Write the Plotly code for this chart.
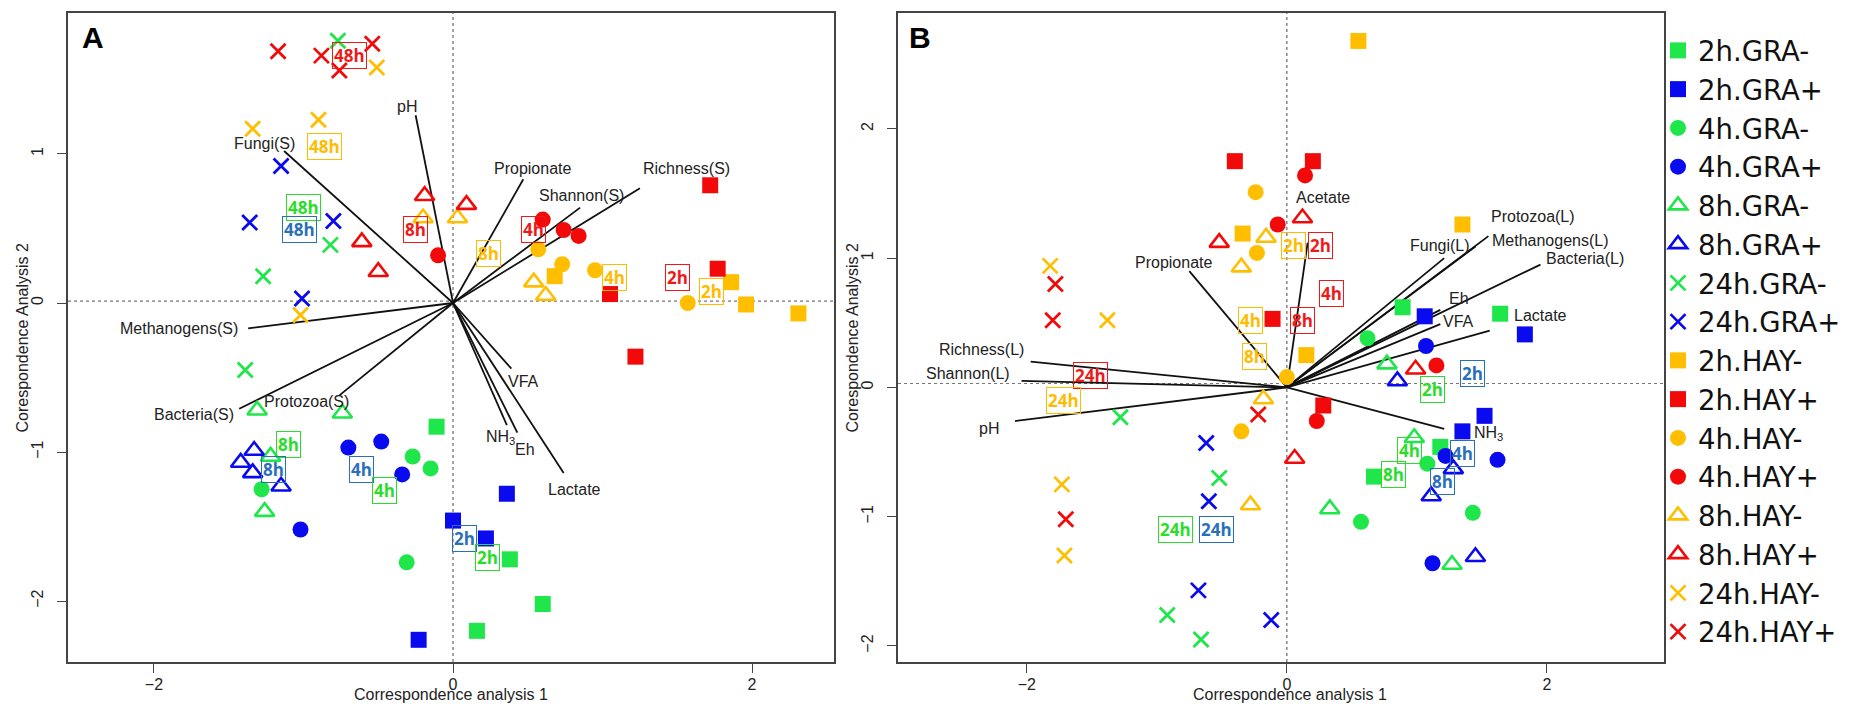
import plotly.graph_objects as go

W, H = 1850, 705

# ---------------- legend / groups ----------------
GROUPS = ["2h.GRA-", "2h.GRA+", "4h.GRA-", "4h.GRA+", "8h.GRA-", "8h.GRA+",
          "24h.GRA-", "24h.GRA+", "2h.HAY-", "2h.HAY+", "4h.HAY-", "4h.HAY+",
          "8h.HAY-", "8h.HAY+", "24h.HAY-", "24h.HAY+"]

# ---------------- Panel A points (CA1, CA2) ----------------
A_2h_GRAm = [(-0.11, -0.83), (0.38, -1.72), (0.60, -2.02), (0.16, -2.20)]
A_2h_GRAp = [(0.36, -1.28), (0.00, -1.46), (0.22, -1.58), (-0.23, -2.26)]
A_4h_GRAm = [(-1.28, -1.25), (-0.27, -1.03), (-0.15, -1.11), (-0.31, -1.74)]
A_4h_GRAp = [(-1.02, -1.52), (-0.70, -0.97), (-0.48, -0.93), (-0.34, -1.15)]
A_8h_GRAm = [(-1.31, -0.72), (-0.74, -0.74), (-1.22, -1.03), (-1.26, -1.40)]
A_8h_GRAp = [(-1.33, -0.99), (-1.42, -1.07), (-1.34, -1.14), (-1.15, -1.23)]
A_24h_GRAm = [(-0.77, 1.76), (-0.82, 0.39), (-1.27, 0.18), (-1.39, -0.45)]
A_24h_GRAp = [(-1.15, 0.92), (-1.36, 0.54), (-0.80, 0.55), (-1.01, 0.03)]
A_2h_HAYm = [(0.68, 0.18), (1.86, 0.14), (1.96, -0.01), (2.31, -0.07)]
A_2h_HAYp = [(1.05, 0.06), (1.72, 0.79), (1.77, 0.23), (1.22, -0.36)]
A_4h_HAYm = [(0.57, 0.36), (0.73, 0.26), (0.95, 0.22), (1.57, 0.00)]
A_4h_HAYp = [(-0.10, 0.32), (0.60, 0.56), (0.74, 0.49), (0.84, 0.45)]
A_8h_HAYm = [(-0.20, 0.57), (0.03, 0.57), (0.54, 0.14), (0.62, 0.05)]
A_8h_HAYp = [(-0.19, 0.72), (0.09, 0.66), (-0.61, 0.41), (-0.50, 0.21)]
A_24h_HAYm = [(-1.34, 1.17), (-0.90, 1.23), (-0.51, 1.58), (-1.02, -0.08)]
A_24h_HAYp = [(-1.17, 1.69), (-0.88, 1.66), (-0.76, 1.56), (-0.54, 1.74)]

A_points = [A_2h_GRAm, A_2h_GRAp, A_4h_GRAm, A_4h_GRAp, A_8h_GRAm, A_8h_GRAp,
            A_24h_GRAm, A_24h_GRAp, A_2h_HAYm, A_2h_HAYp, A_4h_HAYm, A_4h_HAYp,
            A_8h_HAYm, A_8h_HAYp, A_24h_HAYm, A_24h_HAYp]

# ---------------- Panel B points ----------------
B_2h_GRAm = [(0.89, 0.62), (1.64, 0.57), (1.18, -0.46), (0.67, -0.69)]
B_2h_GRAp = [(1.06, 0.55), (1.83, 0.41), (1.52, -0.22), (1.35, -0.34)]
B_4h_GRAm = [(0.62, 0.38), (1.08, -0.59), (0.57, -1.04), (1.43, -0.97)]
B_4h_GRAp = [(1.07, 0.32), (1.22, -0.53), (1.62, -0.56), (1.12, -1.36)]
B_8h_GRAm = [(0.77, 0.18), (0.98, -0.39), (0.33, -0.94), (1.27, -1.37)]
B_8h_GRAp = [(0.85, 0.05), (1.28, -0.63), (1.11, -0.84), (1.45, -1.31)]
B_24h_GRAm = [(-1.28, -0.23), (-0.52, -0.70), (-0.92, -1.76), (-0.66, -1.95)]
B_24h_GRAp = [(-0.62, -0.43), (-0.60, -0.88), (-0.68, -1.57), (-0.12, -1.80)]
B_2h_HAYm = [(0.55, 2.68), (-0.34, 1.19), (1.35, 1.26), (0.15, 0.25)]
B_2h_HAYp = [(-0.40, 1.75), (0.20, 1.75), (-0.11, 0.53), (0.28, -0.14)]
B_4h_HAYm = [(-0.24, 1.51), (-0.23, 1.04), (0.00, 0.08), (-0.35, -0.34)]
B_4h_HAYp = [(-0.07, 1.26), (0.14, 1.64), (1.15, 0.17), (0.23, -0.26)]
B_8h_HAYm = [(-0.16, 1.16), (-0.35, 0.93), (-0.18, -0.09), (-0.28, -0.91)]
B_8h_HAYp = [(-0.52, 1.12), (0.12, 1.31), (0.99, 0.14), (0.06, -0.55)]
B_24h_HAYm = [(-1.82, 0.94), (-1.38, 0.52), (-1.73, -0.75), (-1.71, -1.30)]
B_24h_HAYp = [(-1.78, 0.80), (-1.80, 0.52), (-1.70, -1.02), (-0.22, -0.21)]

B_points = [B_2h_GRAm, B_2h_GRAp, B_4h_GRAm, B_4h_GRAp, B_8h_GRAm, B_8h_GRAp,
            B_24h_GRAm, B_24h_GRAp, B_2h_HAYm, B_2h_HAYp, B_4h_HAYm, B_4h_HAYp,
            B_8h_HAYm, B_8h_HAYp, B_24h_HAYm, B_24h_HAYp]

# ---------------- variable vectors ----------------
A_arrow_names = ["pH", "Fungi(S)", "Propionate", "Shannon(S)", "Richness(S)",
                 "Methanogens(S)", "Bacteria(S)", "Protozoa(S)", "VFA",
                 "NH<sub>3</sub>", "Eh", "Lactate"]
A_arrow_x = [-0.25, -1.13, 0.47, 0.85, 1.25, -1.37, -1.43, -0.76, 0.39, 0.36, 0.43, 0.74]
A_arrow_y = [1.26, 1.02, 0.83, 0.64, 0.77, -0.17, -0.71, -0.62, -0.44, -0.82, -0.87, -1.14]
A_label_x = [-0.31, -1.26, 0.53, 0.86, 1.56, -1.83, -1.73, -0.98, 0.47, 0.32, 0.48, 0.81]
A_label_y = [1.32, 1.07, 0.90, 0.72, 0.90, -0.17, -0.75, -0.66, -0.53, -0.90, -0.98, -1.25]

B_arrow_names = ["Propionate", "Acetate", "Protozoa(L)", "Methanogens(L)", "Fungi(L)",
                 "Bacteria(L)", "Eh", "VFA", "Lactate", "NH<sub>3</sub>",
                 "Richness(L)", "Shannon(L)", "pH"]
B_arrow_x = [-0.75, 0.16, 1.55, 1.45, 1.21, 1.95, 1.18, 1.18, 1.56, 1.21, -1.97, -2.04, -2.09]
B_arrow_y = [0.90, 1.12, 1.17, 1.09, 1.00, 0.95, 0.60, 0.49, 0.44, -0.32, 0.20, 0.05, -0.26]
B_label_x = [-0.87, 0.28, 1.89, 2.03, 1.18, 2.29, 1.32, 1.32, 1.95, 1.55, -2.35, -2.45, -2.29]
B_label_y = [0.97, 1.47, 1.32, 1.14, 1.10, 1.00, 0.69, 0.51, 0.56, -0.36, 0.29, 0.11, -0.32]

# ---------------- group centroid tags ----------------
A_tag_text = ["48h", "48h", "48h", "48h", "8h", "8h", "4h", "4h", "2h", "2h",
              "8h", "8h", "4h", "4h", "2h", "2h"]
A_tag_group = ["HAY+", "HAY-", "GRA-", "GRA+", "HAY+", "HAY-", "HAY+", "HAY-", "HAY+", "HAY-",
               "GRA-", "GRA+", "GRA+", "GRA-", "GRA+", "GRA-"]
A_tag_x = [-0.69, -0.86, -1.00, -1.03, -0.25, 0.24, 0.54, 1.08, 1.50, 1.73,
           -1.10, -1.20, -0.61, -0.46, 0.08, 0.23]
A_tag_y = [1.66, 1.05, 0.64, 0.49, 0.49, 0.33, 0.49, 0.17, 0.17, 0.08,
           -0.95, -1.12, -1.12, -1.26, -1.58, -1.71]

B_tag_text = ["2h", "2h", "4h", "4h", "8h", "8h", "24h", "24h", "24h", "24h",
              "2h", "2h", "4h", "4h", "8h", "8h"]
B_tag_group = ["HAY-", "HAY+", "HAY+", "HAY-", "HAY+", "HAY-", "HAY+", "HAY-", "GRA-", "GRA+",
               "GRA+", "GRA-", "GRA-", "GRA+", "GRA-", "GRA+"]
B_tag_x = [0.05, 0.26, 0.34, -0.28, 0.12, -0.25, -1.51, -1.72, -0.86, -0.54,
           1.43, 1.12, 0.94, 1.35, 0.82, 1.20]
B_tag_y = [1.10, 1.10, 0.73, 0.52, 0.52, 0.24, 0.09, -0.10, -1.10, -1.10,
           0.11, -0.02, -0.49, -0.51, -0.67, -0.73]

# ---------------- styles ----------------
COLORS = {"GRA-": "#1FE64A", "GRA+": "#0A0AEE", "HAY-": "#FFBF00", "HAY+": "#F20A0A"}
TAG_COLORS = {"GRA-": "#2BDD2B", "GRA+": "#2A6FBA", "HAY-": "#FFBB00", "HAY+": "#EE1A1A"}
SYMBOLS = {"2h": "square", "4h": "circle", "8h": "triangle-up-open", "24h": "x-thin-open"}
SIZES = {"2h": 16, "4h": 16, "8h": 17, "24h": 15}
LWIDTH = {"2h": 0, "4h": 0, "8h": 2.6, "24h": 2.8}

FONT = "Liberation Sans, Arial, sans-serif"

# pixel layout
A_left, A_right, B_left, B_right = 60, 826, 890, 1656
P_top, P_bot = 5, 654

def px(v):
    return v / W

def py(v):
    return 1 - v / H

fig = go.Figure()

def add_panel(points, arrows_x, arrows_y, names, lx, ly, tags, tgroups, tx, ty, xa, ya, legend):
    # arrows
    xs, ys = [], []
    for ex, ey in zip(arrows_x, arrows_y):
        xs += [0, ex, None]
        ys += [0, ey, None]
    fig.add_trace(go.Scatter(x=xs, y=ys, mode="lines", line=dict(color="#111111", width=1.8),
                             xaxis=xa, yaxis=ya, showlegend=False, hoverinfo="skip"))
    for g, pts in zip(GROUPS, points):
        t, grp = g.split(".")
        col = COLORS[grp]
        sym = SYMBOLS[t]
        fig.add_trace(go.Scatter(
            x=[p[0] for p in pts], y=[p[1] for p in pts], mode="markers", name=g,
            legendgroup=g, showlegend=legend,
            marker=dict(symbol=sym, size=SIZES[t], color=col,
                        line=dict(color=col, width=LWIDTH[t])),
            xaxis=xa, yaxis=ya))
    for n, x, y in zip(names, lx, ly):
        fig.add_annotation(x=x, y=y, xref=xa, yref=ya, text=n, showarrow=False,
                           xanchor="center", yanchor="middle",
                           font=dict(family=FONT, size=16, color="#222222"))
    for t, g, x, y in zip(tags, tgroups, tx, ty):
        c = TAG_COLORS[g]
        fig.add_annotation(x=x, y=y, xref=xa, yref=ya, text="<b>%s</b>" % t, showarrow=False,
                           xanchor="center", yanchor="middle",
                           font=dict(family="Open Sans, sans-serif", size=17, color=c),
                           bordercolor=c, borderwidth=1, borderpad=1)

add_panel(A_points, A_arrow_x, A_arrow_y, A_arrow_names, A_label_x, A_label_y,
          A_tag_text, A_tag_group, A_tag_x, A_tag_y, "x", "y", True)
add_panel(B_points, B_arrow_x, B_arrow_y, B_arrow_names, B_label_x, B_label_y,
          B_tag_text, B_tag_group, B_tag_x, B_tag_y, "x2", "y2", False)

axis_common = dict(showgrid=False, zeroline=False, showline=True, mirror=True,
                   linecolor="#444444", linewidth=1.5, ticks="outside", ticklen=9,
                   tickcolor="#444444", tickwidth=1.2,
                   tickfont=dict(family=FONT, size=16, color="#222222"))

fig.update_layout(
    width=W, height=H, margin=dict(l=0, r=0, t=0, b=0),
    paper_bgcolor="white", plot_bgcolor="white",
    xaxis=dict(domain=[px(A_left), px(A_right)], range=[-2.575, 2.548],
               tickvals=[-2, 0, 2], anchor="y", ticklabelstandoff=-2, **axis_common),
    yaxis=dict(domain=[py(P_bot), py(P_top)], range=[-2.409, 1.946],
               tickvals=[-2, -1, 0, 1], tickangle=-90, anchor="x",
               ticklabelstandoff=8, **axis_common),
    xaxis2=dict(domain=[px(B_left), px(B_right)], range=[-2.99, 2.90],
                tickvals=[-2, 0, 2], anchor="y2", ticklabelstandoff=-2, **axis_common),
    yaxis2=dict(domain=[py(P_bot), py(P_top)], range=[-2.124, 2.896],
                tickvals=[-2, -1, 0, 1, 2], tickangle=-90, anchor="x2",
                ticklabelstandoff=8, **axis_common),
    legend=dict(x=px(1650), y=py(18), xanchor="left", yanchor="top",
                font=dict(family="DejaVu Sans, sans-serif", size=27.5, color="#111111"),
                tracegroupgap=0, traceorder="grouped", bgcolor="rgba(0,0,0,0)"),
    showlegend=True,
)

# reference lines
for xa, ya, h0 in (("x", "y", 0.013), ("x2", "y2", 0.03)):
    fig.add_shape(type="line", xref=xa, yref=ya + " domain", x0=0, x1=0, y0=0, y1=1,
                  line=dict(color="#666666", width=1.2, dash="dot"), layer="below")
    fig.add_shape(type="line", xref=xa + " domain", yref=ya, x0=0, x1=1, y0=h0, y1=h0,
                  line=dict(color="#777777", width=1.2, dash="dot"), layer="below")

# axis titles
for cx in ((A_left + A_right) / 2, 1282):
    fig.add_annotation(x=px(cx), y=py(686), xref="paper", yref="paper",
                       xanchor="center", yanchor="middle",
                       text="Correspondence analysis 1", showarrow=False,
                       font=dict(family=FONT, size=16, color="#222222"))
for cx in (14, 844):
    fig.add_annotation(x=px(cx), y=py((P_top + P_bot) / 2), xref="paper", yref="paper",
                       xanchor="center", yanchor="middle",
                       text="Corespondence Analysis 2", showarrow=False, textangle=-90,
                       font=dict(family=FONT, size=16, color="#222222"))

# panel letters
for letter, cx in (("A", 85), ("B", 912)):
    fig.add_annotation(x=px(cx), y=py(30), xref="paper", yref="paper",
                       xanchor="center", yanchor="middle",
                       text="<b>%s</b>" % letter, showarrow=False,
                       font=dict(family=FONT, size=30, color="#000000"))

fig.write_html("out.html")
